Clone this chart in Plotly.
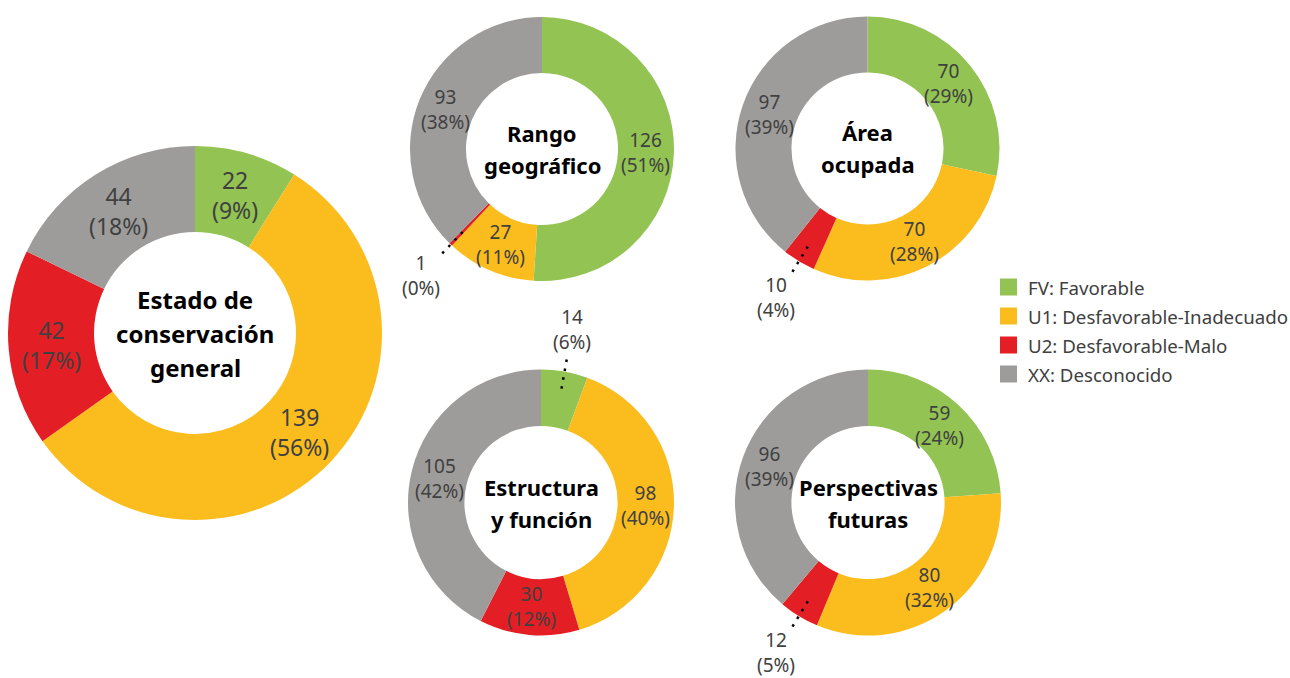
import math
import plotly.graph_objects as go

W, H = 1290, 678

# ---------------- data ----------------
categories = ["FV: Favorable", "U1: Desfavorable-Inadecuado",
              "U2: Desfavorable-Malo", "XX: Desconocido"]
colors = ["#92C353", "#FBBD1E", "#E31E24", "#9D9C9B"]

general_values = [22, 139, 42, 44]
general_pct = [9, 56, 17, 18]
rango_values = [126, 27, 1, 93]
rango_pct = [51, 11, 0, 38]
area_values = [70, 70, 10, 97]
area_pct = [29, 28, 4, 39]
estructura_values = [14, 98, 30, 105]
estructura_pct = [6, 40, 12, 42]
perspectivas_values = [59, 80, 12, 96]
perspectivas_pct = [24, 32, 5, 39]

titles = [
    ["Estado de", "conservación", "general"],
    ["Rango", "geográfico"],
    ["Área", "ocupada"],
    ["Estructura", "y función"],
    ["Perspectivas", "futuras"],
]

# ---------------- layout spec (pixels) ----------------
charts = [
    dict(v=general_values, p=general_pct, t=titles[0], cx=195, cy=333, r=187, hole=0.54,
         tfs=24, tsp=34, lfs=23),
    dict(v=rango_values, p=rango_pct, t=titles[1], cx=542, cy=149, r=132, hole=0.576,
         tfs=22, tsp=32, lfs=19),
    dict(v=area_values, p=area_pct, t=titles[2], cx=867.5, cy=148.5, r=132, hole=0.576,
         tfs=22, tsp=32, lfs=19),
    dict(v=estructura_values, p=estructura_pct, t=titles[3], cx=541, cy=502.5, r=133, hole=0.576,
         tfs=22, tsp=32, lfs=19),
    dict(v=perspectivas_values, p=perspectivas_pct, t=titles[4], cx=868, cy=502.5, r=133, hole=0.576,
         tfs=22, tsp=32, lfs=19),
]

FONT = "Noto Sans"
LABEL_COLOR = "#404040"


def px(x):
    return x / W


def py(y):
    return 1 - y / H


fig = go.Figure()
annotations = []
shapes = []

for c in charts:
    cx, cy, r = c["cx"], c["cy"], c["r"]
    fig.add_trace(go.Pie(
        labels=categories, values=c["v"], sort=False, direction="clockwise",
        rotation=0, hole=c["hole"], textinfo="none", hoverinfo="label+value",
        marker=dict(colors=colors, line=dict(width=0)),
        domain=dict(x=[px(cx - r), px(cx + r)], y=[py(cy + r), py(cy - r)]),
        showlegend=False,
    ))
    # title lines
    n = len(c["t"])
    for i, line in enumerate(c["t"]):
        yy = cy + (i - (n - 1) / 2) * c["tsp"]
        annotations.append(dict(
            x=px(cx), y=py(yy), xref="paper", yref="paper", text=f"<b>{line}</b>",
            showarrow=False, xanchor="center", yanchor="middle",
            font=dict(family=FONT, size=c["tfs"], color="#000000")))
    # data labels
    total = sum(c["v"])
    cum = 0
    for v, p in zip(c["v"], c["p"]):
        mid = (cum + v / 2) / total * 2 * math.pi
        cum += v
        sx, sy = math.sin(mid), -math.cos(mid)
        if p <= 6:
            rl = r + 43
            r0, r1 = r * 0.87, r * 1.12
            shapes.append(dict(
                type="line", xref="paper", yref="paper",
                x0=px(cx + r0 * sx), y0=py(cy + r0 * sy),
                x1=px(cx + r1 * sx), y1=py(cy + r1 * sy),
                line=dict(color="#000000", width=2.5, dash="2.5px,6.5px")))
        else:
            rl = r * (1 + c["hole"]) / 2
        annotations.append(dict(
            x=px(cx + rl * sx), y=py(cy + rl * sy), xref="paper", yref="paper",
            text=f"{v}<br>({p}%)", showarrow=False, xanchor="center", yanchor="middle",
            font=dict(family=FONT, size=c["lfs"], color=LABEL_COLOR)))

# ---------------- legend ----------------
LX, LY0, LDY, LS = 1000, 287, 29, 17
for i, (cat, col) in enumerate(zip(categories, colors)):
    yc = LY0 + i * LDY
    shapes.append(dict(type="rect", xref="paper", yref="paper",
                       x0=px(LX), x1=px(LX + LS), y0=py(yc + LS / 2), y1=py(yc - LS / 2),
                       fillcolor=col, line=dict(width=0)))
    annotations.append(dict(
        x=px(LX + LS + 9), y=py(yc), xref="paper", yref="paper", text=cat,
        showarrow=False, xanchor="left", yanchor="middle",
        font=dict(family=FONT, size=18.7, color=LABEL_COLOR)))

fig.update_layout(
    width=W, height=H, margin=dict(l=0, r=0, t=0, b=0),
    paper_bgcolor="white", plot_bgcolor="white",
    annotations=annotations, shapes=shapes, showlegend=False,
)

fig.write_html("out.html", config={"displayModeBar": False},
               post_script="document.body.style.margin='0';document.body.style.overflow='hidden';")
